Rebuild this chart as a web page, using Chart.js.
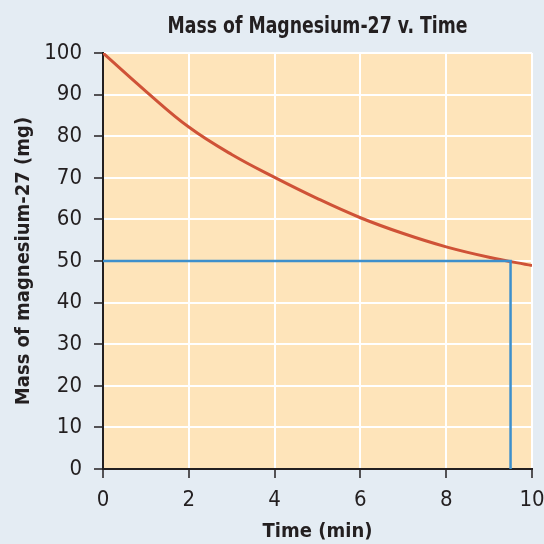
<!DOCTYPE html>
<html>
<head>
<meta charset="utf-8">
<script src="https://cdn.jsdelivr.net/npm/chart.js@4"></script>
<style>
  html, body { margin: 0; padding: 0; background: #e4ecf3; }
  #wrap { width: 544px; height: 544px; }
</style>
</head>
<body>
<div id="wrap"><canvas id="massChart" width="544" height="544"></canvas></div>
<script>
// values
const timeMin = [0, 1, 2, 3, 4, 5, 6, 7, 8, 9, 10];
const massMg = [100, 90.8, 82.2, 75.6, 70.1, 65.0, 60.4, 56.6, 53.4, 50.9, 48.9];
const halfLifeX = [0, 9.5, 9.5];
const halfLifeY = [50, 50, 0];
const xTicks = [0, 2, 4, 6, 8, 10];
const yTicks = [0, 10, 20, 30, 40, 50, 60, 70, 80, 90, 100];

const FONT = '"Liberation Sans Narrow", "DejaVu Sans Condensed", sans-serif';
const INK = "#231f20";

const toPoints = (xs, ys) => xs.map((x, i) => ({ x, y: ys[i] }));

// orange plot background + title over the plot area
const plotBg = {
  id: "plotBg",
  beforeDraw(chart) {
    const { ctx, chartArea: a } = chart;
    ctx.save();
    ctx.fillStyle = "#fee4ba";
    ctx.fillRect(a.left, a.top, a.right - a.left, a.bottom - a.top);
    ctx.restore();
  },
  afterDraw(chart) {
    const { ctx, chartArea: a } = chart;
    const text = "Mass of Magnesium-27 v. Time";
    ctx.save();
    ctx.fillStyle = INK;
    ctx.font = "bold 23px " + FONT;
    ctx.textAlign = "center";
    ctx.textBaseline = "alphabetic";
    // squeeze a bit toward the condensed width of the original
    const w = ctx.measureText(text).width;
    const sx = Math.min(1, 300 / w);
    ctx.translate((a.left + a.right) / 2, 33);
    ctx.scale(sx, 1);
    ctx.fillText(text, 0, 0);
    ctx.restore();
  },
};

const ctx = document.getElementById("massChart").getContext("2d");

new Chart(ctx, {
  type: "scatter",
  data: {
    datasets: [
      {
        label: "Half-life",
        data: toPoints(halfLifeX, halfLifeY),
        showLine: true,
        borderColor: "#3d8fcc",
        borderWidth: 2.5,
        pointRadius: 0,
        tension: 0,
        fill: false,
      },
      {
        label: "Mass",
        data: toPoints(timeMin, massMg),
        showLine: true,
        borderColor: "#cf5237",
        borderWidth: 3,
        pointRadius: 0,
        tension: 0.4,
        fill: false,
      },
    ],
  },
  options: {
    responsive: false,
    animation: false,
    layout: { padding: { top: 53, right: 12, left: 0, bottom: 0 } },
    plugins: {
      legend: { display: false },
      tooltip: { enabled: false },
      title: { display: false },
    },
    scales: {
      x: {
        type: "linear",
        min: 0,
        max: 10,
        afterBuildTicks: (s) => { s.ticks = xTicks.map((v) => ({ value: v })); },
        afterFit: (s) => { s.height = 75; s.paddingRight = 0; },
        grid: { color: "#ffffff", lineWidth: 2, tickColor: INK, tickLength: 9, tickWidth: 1.5 },
        border: { color: INK, width: 2 },
        ticks: { color: INK, font: { family: FONT, size: 22 }, padding: 9 },
        title: {
          display: true,
          text: "Time (min)",
          color: INK,
          font: { family: FONT, size: 20, weight: "bold" },
          padding: { top: 0, bottom: 0 },
        },
      },
      y: {
        type: "linear",
        min: 0,
        max: 100,
        afterBuildTicks: (s) => { s.ticks = yTicks.map((v) => ({ value: v })); },
        afterFit: (s) => { s.width = 103; },
        grid: { color: "#ffffff", lineWidth: 2, tickColor: INK, tickLength: 9, tickWidth: 1.5 },
        border: { color: INK, width: 2 },
        ticks: { color: INK, font: { family: FONT, size: 22 }, padding: 12 },
        title: {
          display: true,
          text: "Mass of magnesium-27 (mg)",
          color: INK,
          font: { family: FONT, size: 20, weight: "bold" },
          padding: { top: 12, bottom: 0 },
        },
      },
    },
  },
  plugins: [plotBg],
});
</script>
</body>
</html>
